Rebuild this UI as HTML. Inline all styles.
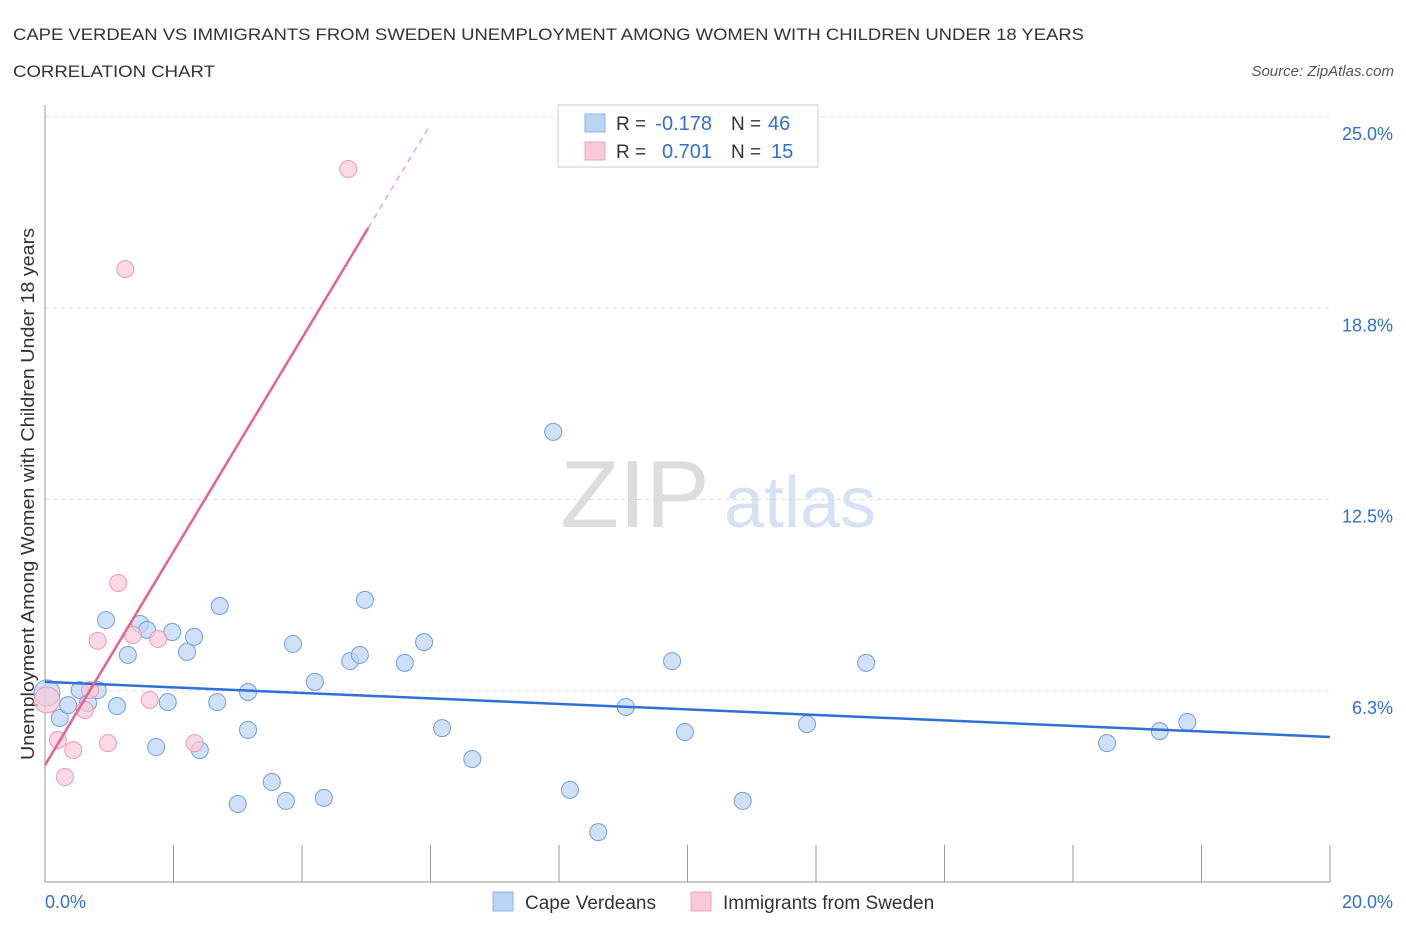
<!DOCTYPE html>
<html><head><meta charset="utf-8"><style>
body{margin:0;background:#fff;font-family:"Liberation Sans",sans-serif;}
svg text{font-family:"Liberation Sans",sans-serif;}
</style></head><body>
<svg id="c" width="1406" height="930" xmlns="http://www.w3.org/2000/svg">
<text x="13" y="40" font-size="17" fill="#333" textLength="1071" lengthAdjust="spacingAndGlyphs">CAPE VERDEAN VS IMMIGRANTS FROM SWEDEN UNEMPLOYMENT AMONG WOMEN WITH CHILDREN UNDER 18 YEARS</text>
<text x="13" y="77" font-size="17" fill="#333" textLength="202" lengthAdjust="spacingAndGlyphs">CORRELATION CHART</text>
<text x="1394" y="76" font-size="15" fill="#555" font-style="italic" text-anchor="end">Source: ZipAtlas.com</text>
<text x="635" y="527" font-size="96" fill="#ddd" font-family="Liberation Serif" text-anchor="middle">ZIP</text>
<text x="800" y="527" font-size="72" fill="#d4e2f4" text-anchor="middle">atlas</text>
<text transform="translate(34,494) rotate(-90)" font-size="18" fill="#333" text-anchor="middle" textLength="532" lengthAdjust="spacingAndGlyphs">Unemployment Among Women with Children Under 18 years</text>
<g id="grid"></g><g id="marks"></g>
<g>
<rect x="558" y="105" width="260" height="62" fill="#fff" stroke="#ccc"/>
<rect x="585" y="114" width="20" height="18" fill="#bcd4f4" stroke="#8fb3e6"/>
<rect x="585" y="142" width="20" height="18" fill="#f9c9d8" stroke="#f0a7bd"/>
<text x="616" y="130" font-size="19" fill="#333">R =</text>
<text x="712" y="130" font-size="20" fill="#2f6fd6" text-anchor="end">-0.178</text>
<text x="731" y="130" font-size="19" fill="#333">N =</text>
<text x="768" y="130" font-size="20" fill="#2f6fd6">46</text>
<text x="616" y="158" font-size="19" fill="#333">R =</text>
<text x="712" y="158" font-size="20" fill="#2f6fd6" text-anchor="end">0.701</text>
<text x="731" y="158" font-size="19" fill="#333">N =</text>
<text x="771" y="158" font-size="20" fill="#2f6fd6">15</text>
</g>
<g>
<rect x="493" y="892" width="20" height="19" fill="#bcd4f4" stroke="#8fb3e6"/>
<text x="525" y="909" font-size="19" fill="#333">Cape Verdeans</text>
<rect x="691" y="892" width="20" height="19" fill="#f9c9d8" stroke="#f0a7bd"/>
<text x="723" y="909" font-size="19" fill="#333">Immigrants from Sweden</text>
</g>
</svg>
<script>
const blueX=[0.03,0.23,0.36,0.54,0.67,0.82,0.95,1.12,1.29,1.48,1.59,1.73,1.91,1.98,2.21,2.32,2.41,2.68,2.72,3.16,3.16,3.00,3.53,3.75,3.86,4.20,4.34,4.75,4.90,4.98,5.60,5.90,6.18,6.65,7.91,8.17,8.61,9.04,9.76,9.96,10.86,11.86,12.78,16.53,17.35,17.78];
const blueY=[6.18,5.36,5.78,6.27,5.85,6.27,8.56,5.75,7.42,8.43,8.24,4.41,5.88,8.17,7.52,8.01,4.31,5.88,9.02,6.21,4.97,2.55,3.27,2.65,7.78,6.54,2.75,7.22,7.42,9.22,7.16,7.84,5.03,4.02,14.71,3.01,1.63,5.72,7.22,4.90,2.65,5.16,7.16,4.54,4.93,5.23];
const pinkX=[0.03,0.20,0.31,0.44,0.62,0.70,0.82,0.98,1.14,1.25,1.37,1.63,1.76,2.33,4.72];
const pinkY=[5.95,4.64,3.43,4.31,5.62,6.27,7.88,4.54,9.77,20.03,8.07,5.95,7.94,4.54,23.30];
const yTicks=[6.3,12.5,18.8,25.0];
const xTickVals=[0,2,4,6,8,10,12,14,16,18,20];
const blueTrend=[6.54,4.74];
const pinkTrend=[3.82,21.37,5.03,24.76,6.0];
const X=v=>45+v/20*1285, Y=v=>882-v*30.6;
const NS="http://www.w3.org/2000/svg";
function mk(p,t,a){const e=document.createElementNS(NS,t);for(const k in a)e.setAttribute(k,a[k]);p.appendChild(e);return e;}
const g=document.getElementById('grid'), m=document.getElementById('marks');
yTicks.forEach(v=>{const yy=Y(v===6.3?6.25:v===18.8?18.75:v);
const l=mk(g,'line',{x1:45,x2:1330,y1:yy,y2:yy,stroke:'#ddd','stroke-dasharray':'4,4'});


const t=mk(g,'text',{x:1393,y:yy+23,'font-size':18,fill:'#2f6fd6','text-anchor':'end'});t.textContent=v.toFixed(1)+'%';

});
const ax=mk(g,'line',{x1:45,x2:45,y1:105,y2:882,stroke:'#999'});


const bx=mk(g,'line',{x1:45,x2:1330,y1:882,y2:882,stroke:'#999'});


xTickVals.forEach(v=>{const t=mk(g,'line',{x1:X(v),x2:X(v),y1:845,y2:882,stroke:'#999'});

});
[[0,'start',45],[20,'end',1393]].forEach(([v,a,x])=>{const t=mk(g,'text',{x:x,y:908,'font-size':18,fill:'#2f6fd6','text-anchor':a});t.textContent=v.toFixed(1)+'%';

});
blueX.forEach((x,i)=>{const c=mk(m,'circle',{cx:X(x),cy:Y(blueY[i]),r:i==0?13:8.5,fill:'#bcd4f4','fill-opacity':0.7,stroke:'#6f9fe0','stroke-width':1});

});
pinkX.forEach((x,i)=>{const c=mk(m,'circle',{cx:X(x),cy:Y(pinkY[i]),r:i==0?13:8.5,fill:'#f9c9d8','fill-opacity':0.7,stroke:'#ee9ab4','stroke-width':1});

});
const bl=mk(m,'line',{x1:X(0),y1:Y(blueTrend[0]),x2:X(20),y2:Y(blueTrend[1]),stroke:'#2f6fd6','stroke-width':2.5});


const pl=mk(m,'line',{x1:X(0),y1:Y(pinkTrend[0]),x2:X(pinkTrend[2]),y2:Y(pinkTrend[1]),stroke:'#e8628f','stroke-width':2.5});


const pd=mk(m,'line',{x1:X(pinkTrend[2]),y1:Y(pinkTrend[1]),x2:X(pinkTrend[4]),y2:Y(pinkTrend[3]),stroke:'#f0a7bd','stroke-width':1.5,'stroke-dasharray':'6,5'});


</script>
</body></html>
